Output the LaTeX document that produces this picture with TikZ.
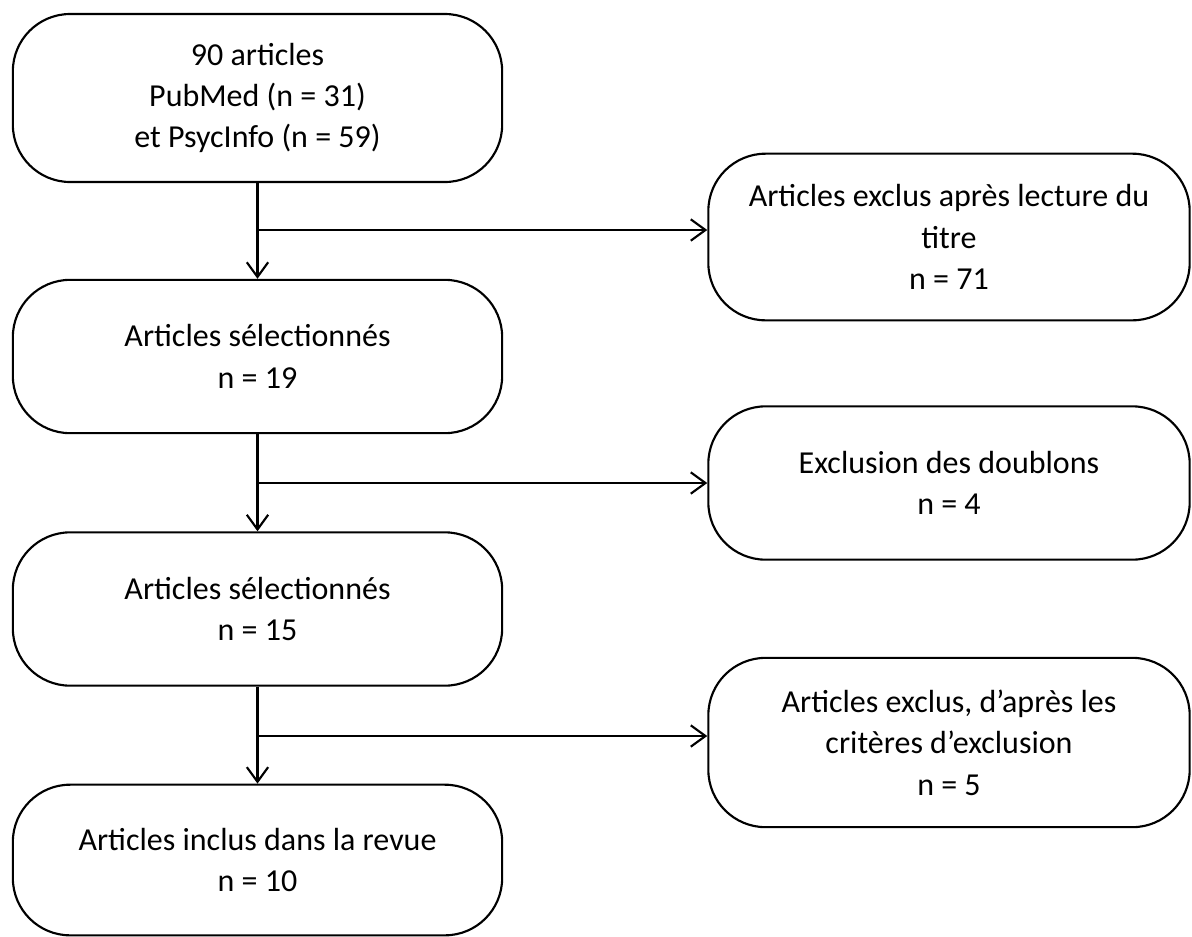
\documentclass[tikz,border=0pt]{standalone}
\usepackage{fontspec}
\setmainfont{Carlito}
\usetikzlibrary{arrows.meta,positioning}

\begin{document}
\begin{tikzpicture}[x=0.75pt,y=-0.75pt,line width=1.6pt,
    >={Straight Barb[length=11pt,width=16pt,line width=1.6pt]},
    box/.style={draw,rounded corners=43pt,align=center,inner sep=0pt,
      font=\fontsize{24}{31}\selectfont},
    lbox/.style={box,minimum width=367pt},
    rbox/.style={box,minimum width=361pt}]
    \useasboundingbox (0,0) rectangle (1192,936);
    \node[lbox,minimum height=126pt] (q_0) at (257.5,98) {90 articles\\PubMed (n = 31)\\et PsycInfo (n = 59)};
    \node[lbox,minimum height=115pt] (q_1) at (257.5,356.5) {Articles sélectionnés\\n = 19};
    \node[lbox,minimum height=115pt] (q_2) at (257.5,609) {Articles sélectionnés\\n = 15};
    \node[lbox,minimum height=113pt] (q_3) at (257.5,860) {Articles inclus dans la revue\\n = 10};
    \node[rbox,minimum height=125pt] (x_0) at (949,237) {Articles exclus après lecture du\\titre\\n = 71};
    \node[rbox,minimum height=115pt] (x_1) at (949,483) {Exclusion des doublons\\n = 4};
    \node[rbox,minimum height=127pt] (x_2) at (949,742.5) {Articles exclus, d’après les\\critères d’exclusion\\n = 5};
    \coordinate (b_0) at (258,230);
    \coordinate (b_1) at (258,483);
    \coordinate (b_2) at (258,736);
    \path[->]
    (q_0) edge (q_1)
    (q_1) edge (q_2)
    (q_2) edge (q_3)
    (b_0) edge (b_0 -| x_0.west)
    (b_1) edge (b_1 -| x_1.west)
    (b_2) edge (b_2 -| x_2.west)
    ; %end path
\end{tikzpicture}
\end{document}
